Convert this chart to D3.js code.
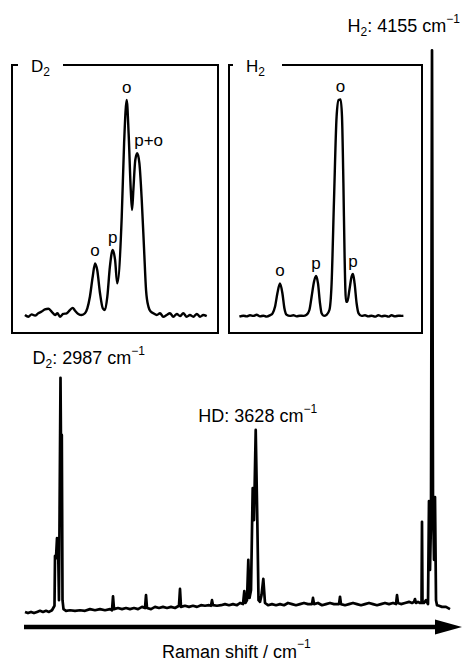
<!doctype html>
<html>
<head>
<meta charset="utf-8">
<title>Raman spectrum D2 / HD / H2</title>
<style>
  body { margin: 0; background: #fff; }
  svg { font-family: "Liberation Sans", Arial, sans-serif; }
  .spec { fill: none; stroke: #000; stroke-linejoin: round; }
</style>
</head>
<body>
<div id="chart"></div>
<script src="https://d3js.org/d3.v7.min.js"></script>
<script>
// main spectrum, Raman shift (cm-1) and intensity (a.u., H2 peak = 100)
const mainShift = [2875, 2884.4, 2893.9, 2903.3, 2912.8, 2922.2, 2931.6, 2941.1, 2950.5, 2959.9,
  2967.8, 2969.4, 2972.5, 2975.7, 2978.8, 2981.9, 2986.7, 2988.3, 2990.8, 2993.0, 2996.1,
  3004.0, 3016.6, 3032.3, 3048.0, 3063.8, 3079.5, 3095.2, 3111.0, 3126.7, 3142.4, 3148.7,
  3151.9, 3155.0, 3167.6, 3180.2, 3192.7, 3205.3, 3217.9, 3230.5, 3243.1, 3252.5, 3255.7,
  3258.8, 3271.4, 3284.0, 3296.5, 3309.1, 3321.7, 3334.3, 3346.9, 3359.4, 3362.6, 3365.7,
  3378.3, 3390.9, 3403.5, 3416.1, 3428.7, 3441.3, 3453.8, 3460.1, 3463.3, 3466.4, 3479.0,
  3491.6, 3504.2, 3516.8, 3529.3, 3541.9, 3551.4, 3560.8, 3564.9, 3568.7, 3573.4, 3577.5,
  3581.3, 3586.0, 3591.3, 3595.4, 3600.8, 3605.8, 3609.6, 3614.3, 3619.0, 3624.7, 3630.0,
  3639.5, 3652.0, 3664.6, 3677.2, 3689.8, 3702.4, 3715.0, 3727.5, 3740.1, 3752.7, 3765.3,
  3777.9, 3781.0, 3784.2, 3796.7, 3809.3, 3821.9, 3834.5, 3847.1, 3862.8, 3866.0, 3869.1,
  3881.7, 3894.3, 3906.9, 3919.4, 3932.0, 3944.6, 3957.2, 3969.8, 3982.4, 3994.9, 4007.5,
  4020.1, 4032.7, 4042.1, 4045.3, 4048.4, 4057.9, 4070.4, 4083.0, 4092.5, 4098.8, 4101.9,
  4105.0, 4111.3, 4117.6, 4122.4, 4123.9, 4125.5, 4130.2, 4136.5, 4142.8, 4145.9, 4149.1,
  4152.2, 4155.4, 4158.5, 4161.7, 4164.8, 4168.0, 4171.1, 4177.4, 4186.8, 4199.4, 4212.0];
const mainIntensity = [-0.7, -0.9, -0.7, -0.9, -0.7, -0.5, -0.7, -0.5, -0.7, -0.4,
  0.4, 9.3, 8.9, 12.5, 12.1, 1.4, 41.1, 28.2, 30.9, 1.4, -0.2,
  -0.5, -0.4, -0.5, -0.4, -0.5, -0.2, -0.4, -0.2, -0.4, -0.2, -0.4,
  2.1, -0.2, 0, -0.2, 0, -0.2, 0, -0.2, 0.2, 0, 2.3,
  0, -0.2, 0.2, 0, 0.2, 0, 0.2, 0, 0.4, 3.4, 0.2,
  0.4, 0.2, 0.4, 0.2, 0.5, 0.4, 0.5, 0.4, 1.4, 0.5, 0.4,
  0.5, 0.7, 0.5, 0.7, 0.5, 0.9, 0.7, 3.0, 0.9, 1.4, 8.6,
  1.8, 3.2, 21.4, 15.7, 31.8, 15.7, 1.4, 1.1, 2.3, 5.2, 0.9,
  0.5, 0.7, 0.5, 0.7, 0.5, 0.9, 0.7, 0.5, 0.7, 0.9, 0.7,
  0.7, 1.8, 0.7, 0.9, 0.5, 0.7, 0.9, 0.7, 0.7, 2.0, 0.7,
  0.5, 0.7, 0.9, 0.7, 0.5, 0.7, 0.9, 0.7, 0.5, 0.7, 0.9,
  0.7, 0.9, 0.7, 2.3, 0.9, 0.7, 0.9, 1.1, 0.9, 1.1, 1.6,
  0.9, 1.1, 0.9, 0.9, 15.4, 0.9, 0.9, 1.4, 0.7, 19.1, 6.8,
  15.7, 99.6, 19.3, 8.6, 19.8, 1.4, 0.5, 0.4, 0.2, 0.2, -0.2];

// D2 inset (Q-branch)
const d2Shift = [2939.9, 2941.5, 2943.0, 2944.6, 2946.1, 2947.7, 2949.2, 2950.8, 2952.3, 2953.9,
  2955.0, 2956.2, 2957.7, 2959.3, 2960.8, 2962.1, 2963.2, 2964.7, 2966.3, 2967.8, 2968.9,
  2970.1, 2971.4, 2972.5, 2973.5, 2974.8, 2976.1, 2977.1, 2978.2, 2979.4, 2980.7, 2981.8,
  2982.8, 2984.9, 2986.0, 2987.2, 2988.1, 2989.1, 2989.7, 2990.3, 2991.2, 2992.1, 2993.1,
  2994.2, 2995.3, 2996.2, 2997.3, 2998.4, 2999.6, 3001.2, 3002.7, 3004.2, 3005.8, 3007.3,
  3008.9, 3010.5, 3012.0, 3013.5, 3015.1, 3016.6, 3018.2, 3019.8, 3021.3, 3022.8, 3024.4];
const d2Intensity = [0, -0.8, 0.3, -0.3, 0.8, 1.6, 2.6, 2.9, 1.6, 0,
  0.8, -0.8, 0.5, 0.8, 2.3, 3.3, 2.0, 0.5, 0, 0.8, 3.1,
  8.5, 17.8, 24.0, 20.9, 10.1, 3.1, 2.3, 8.5, 22.5, 30.2, 25.6,
  14.7, 45.7, 79.9, 100, 84.5, 58.1, 48.8, 58.1, 72.1, 75.2, 70.6,
  53.5, 30.2, 11.6, 3.9, 1.6, 0.8, 0, 0.8, -0.8, 0, 0.8,
  -0.8, 0.5, -0.5, 0.8, -0.8, 0, -0.8, 0.5, -0.8, 0, -0.5];
const d2Labels = ["o", "p", "o", "p+o"];
const d2LabelShift = [2972.5, 2980.7, 2987.2, 2992.1];

// H2 inset (Q-branch)
const h2Shift = [4104.7, 4106.7, 4108.3, 4110.0, 4111.7, 4113.3, 4115.0, 4116.7, 4118.3, 4120.0,
  4121.3, 4122.5, 4123.7, 4125.0, 4126.2, 4127.2, 4128.3, 4130.0, 4131.7, 4133.3, 4135.0,
  4136.7, 4138.3, 4139.7, 4140.8, 4142.0, 4143.0, 4144.0, 4145.0, 4145.8, 4147.0, 4148.3,
  4149.7, 4150.8, 4152.0, 4153.3, 4154.3, 4155.3, 4156.0, 4156.7, 4157.3, 4158.0, 4158.7,
  4159.7, 4160.8, 4161.5, 4162.3, 4163.3, 4164.3, 4165.8, 4167.5, 4169.2, 4170.8, 4172.5,
  4174.2, 4175.8, 4177.5, 4179.2, 4180.8, 4182.5, 4184.2, 4185.8, 4186.7];
const h2Intensity = [0.15, 0.6, 0.3, 0.8, 0.5, 1.0, 0.3, 0.6, 0.15, 0.8,
  1.7, 4.7, 10.9, 15.4, 10.9, 4.0, 1.0, 0.5, 0.8, 0.3, 0.6,
  0.5, 1.0, 3.2, 9.3, 16.2, 18.8, 15.4, 6.3, 1.7, 0.5, 1.0,
  3.2, 15.4, 53.7, 91.9, 99.5, 99.8, 91.9, 61.3, 27.7, 7.0, 7.0,
  12.4, 18.5, 19.7, 15.4, 6.3, 1.7, 0.5, 0.8, 0.3, 0.6, 0.15,
  0.8, 0.3, 0.6, 0.15, 0.8, 0.3, 0.6, 0.5, 0.6];
const h2Labels = ["o", "p", "o", "p"];
const h2LabelShift = [4125.0, 4143.0, 4155.3, 4161.5];

const mainPeaks = [2987, 3628, 4155];
const mainNames = [["D", "2"], ["HD", ""], ["H", "2"]];

const W = 467, H = 662;

var svg = d3.select("#chart").append("svg")
  .attr("width", W).attr("height", H);

// ---------- main spectrum ----------
var x = d3.scaleLinear().domain([2875, 4212]).range([25, 450]);
var y = d3.scaleLinear().domain([0, 100]).range([608, 48]);

var mainData = mainShift.map((s, i) => [s, mainIntensity[i]]);
svg.append("path")
  .datum(mainData)
  .attr("class", "spec")
  .attr("stroke-width", 2.7)
  .attr("d", d3.line().x(d => x(d[0])).y(d => y(d[1])));

// peak labels: find the data maximum near each nominal shift
var labelCfg = [
  {anchor: "start", dx: -28, dy: -14},
  {anchor: "middle", dx: 2, dy: -8},
  {anchor: "end", dx: 28, dy: -18}
];
mainPeaks.forEach(function(p, i) {
  var near = mainData.filter(d => Math.abs(d[0] - p) < 40);
  var top = near.reduce((a, b) => (b[1] > a[1] ? b : a));
  var t = svg.append("text")
    .attr("x", x(top[0]) + labelCfg[i].dx)
    .attr("y", y(top[1]) + labelCfg[i].dy)
    .attr("text-anchor", labelCfg[i].anchor)
    .style("font-size", "18px");
  t.append("tspan").text(mainNames[i][0]);
  if (mainNames[i][1]) {
    t.append("tspan").attr("dy", 4).style("font-size", "12px").text(mainNames[i][1]);
    t.append("tspan").attr("dy", -4).text(": " + p + " cm");
  } else {
    t.append("tspan").text(": " + p + " cm");
  }
  t.append("tspan").attr("dy", -9).style("font-size", "12px").text("\u22121");
});

// axis arrow
svg.append("line")
  .attr("x1", 24).attr("x2", 440)
  .attr("y1", 627).attr("y2", 627)
  .attr("stroke", "#000").attr("stroke-width", 4.5);
svg.append("path")
  .attr("d", "M435,619.5L462,627L435,634.5Z")
  .attr("fill", "#000");

var xl = svg.append("text")
  .attr("x", 162).attr("y", 658)
  .style("font-size", "18px");
xl.append("tspan").text("Raman shift / cm");
xl.append("tspan").attr("dy", -10).style("font-size", "12px").text("\u22121");

// ---------- insets ----------
function inset(box, shifts, vals, xDom, xRng, yRng, labels, labShift, title) {
  var g = svg.append("g");
  // frame with a gap for the title
  g.append("path")
    .attr("d", "M" + box.gap1 + "," + box.top + "L" + box.right + "," + box.top +
      "L" + box.right + "," + box.bottom + "L" + box.left + "," + box.bottom +
      "L" + box.left + "," + box.top + "L" + box.gap0 + "," + box.top)
    .attr("fill", "none").attr("stroke", "#000").attr("stroke-width", 2);
  var tt = g.append("text")
    .attr("x", box.gap0 + 13).attr("y", box.top + 7)
    .style("font-size", "17px");
  tt.append("tspan").text(title[0]);
  tt.append("tspan").attr("dy", 4).style("font-size", "12px").text(title[1]);

  var ix = d3.scaleLinear().domain(xDom).range(xRng);
  var iy = d3.scaleLinear().domain([0, 100]).range(yRng);
  var data = shifts.map((s, i) => [s, vals[i]]);
  g.append("path")
    .datum(data)
    .attr("class", "spec")
    .attr("stroke-width", 2.4)
    .attr("d", d3.line().curve(d3.curveMonotoneX).x(d => ix(d[0])).y(d => iy(d[1])));

  labels.forEach(function(l, i) {
    var near = data.filter(d => Math.abs(d[0] - labShift[i]) < 0.8);
    var top = near.reduce((a, b) => (b[1] > a[1] ? b : a));
    g.append("text")
      .attr("x", ix(top[0]) + (l.length > 1 ? -3 : 0))
      .attr("y", iy(top[1]) - 7)
      .attr("text-anchor", l.length > 1 ? "start" : "middle")
      .style("font-size", "17px")
      .text(l);
  });
}

inset({left: 12, right: 218, top: 65, bottom: 333, gap0: 18, gap1: 63},
  d2Shift, d2Intensity, [2939, 3025], [23, 208], [315, 100], d2Labels, d2LabelShift, ["D", "2"]);
inset({left: 229, right: 422, top: 65, bottom: 333, gap0: 233, gap1: 282},
  h2Shift, h2Intensity, [4104, 4187], [238, 404], [317, 99], h2Labels, h2LabelShift, ["H", "2"]);
</script>
</body>
</html>
